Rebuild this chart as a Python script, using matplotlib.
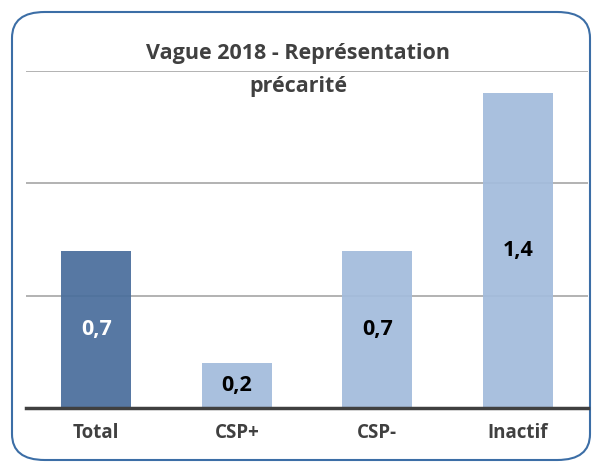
import matplotlib
matplotlib.use("Agg")
import matplotlib.pyplot as plt
from matplotlib.patches import FancyBboxPatch

categories = ["Total", "CSP+", "CSP-", "Inactif"]
values = [0.7, 0.2, 0.7, 1.4]
labels = ["0,7", "0,2", "0,7", "1,4"]
title = "Vague 2018 - Représentation\nprécarité"

bar_colors = ["#4A6E9C", "#A3BCDC", "#A3BCDC", "#A3BCDC"]
label_colors = ["white", "black", "black", "black"]

plt.rcParams['font.family'] = ['Open Sans', 'DejaVu Sans']

fig = plt.figure(figsize=(5.95, 4.72), dpi=100)
fig.patch.set_facecolor("white")

# rounded border
border = FancyBboxPatch((12/595, 12/472), 578/595, 448/472,
                        boxstyle="round,pad=0,rounding_size=0.055",
                        transform=fig.transFigure, facecolor="white",
                        edgecolor="#3C6EA6", linewidth=1.5, zorder=-10)
fig.patches.append(border)

ax = fig.add_axes([26/595, 64/472, 562/595, 337/472])
ax.set_zorder(2)
ax.set_facecolor("none")
x = range(len(categories))
bars = ax.bar(x, values, width=0.5, color=bar_colors, zorder=2, alpha=0.93)
ax.set_xlim(-0.5, 3.5)
ax.set_ylim(0, 1.5)
ax.set_yticks([0.5, 1.0, 1.5])
ax.yaxis.grid(True, color="#A6A6A6", linewidth=1.2, zorder=1)
ax.set_axisbelow(True)
ax.tick_params(axis='y', left=False, labelleft=False)
ax.tick_params(axis='x', bottom=False, pad=7)
ax.set_xticks(list(x))
ax.set_xticklabels(categories, fontsize=13.5, fontweight="bold", color="#404040")
for s in ["top", "right", "left"]:
    ax.spines[s].set_visible(False)
ax.spines["bottom"].set_color("#404040")
ax.spines["bottom"].set_linewidth(2.5)
ax.spines["bottom"].set_zorder(4)

for xi, v, lab, c in zip(x, values, labels, label_colors):
    ax.text(xi, v / 2, lab, ha="center", va="center", fontsize=15.5,
            fontweight="bold", color=c, zorder=5)

fig.text(298/595, 1 - 70/472, title, ha="center", va="center", fontsize=15.5,
         fontweight="bold", color="#404040", linespacing=1.75, zorder=5)

fig.savefig("out.png", dpi=100)
